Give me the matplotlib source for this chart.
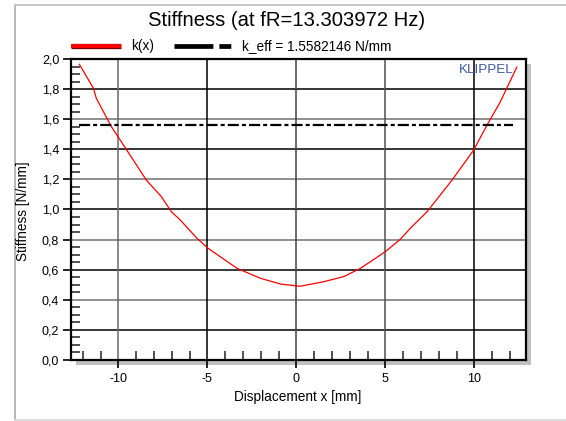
import matplotlib
matplotlib.use("Agg")
import matplotlib.pyplot as plt
from matplotlib.lines import Line2D
from matplotlib.patches import Rectangle
import matplotlib.patheffects as pe

plt.rcParams['font.family'] = ['Liberation Sans', 'DejaVu Sans']
plt.rcParams['lines.scale_dashes'] = False

# ---- data ----
x_disp = [-12.19, -11.4, -11.24, -10.39, -10.02, -8.43, -7.58, -7.02, -6.52, -5.58,
          -4.96, -3.33, -2.02, -0.9, 0.2, 1.53, 2.66, 3.6, 5.0, 5.84, 6.4, 7.34,
          8.75, 9.96, 10.71, 11.46, 12.38]
k_vals = [1.965, 1.805, 1.74, 1.55, 1.484, 1.196, 1.085, 0.985, 0.93, 0.808,
          0.742, 0.609, 0.543, 0.505, 0.49, 0.52, 0.554, 0.609, 0.72, 0.802, 0.875, 0.985,
          1.196, 1.395, 1.561, 1.716, 1.945]
k_eff = 1.5582146
k_eff_range = [-12.23, 12.17]

x_ticks = [-10, -5, 0, 5, 10]
x_tick_labels = ['-10', '-5', '0', '5', '10']
y_ticks = [0.0, 0.2, 0.4, 0.6, 0.8, 1.0, 1.2, 1.4, 1.6, 1.8, 2.0]
y_tick_labels = ['0,0', '0,2', '0,4', '0,6', '0,8', '1,0', '1,2', '1,4', '1,6', '1,8', '2,0']
x_minor = [-12, -11, -9, -8, -7, -6, -4, -3, -2, -1, 1, 2, 3, 4, 6, 7, 8, 9, 11, 12]
y_minor = [i * 0.05 for i in range(41) if i % 4 != 0]

title = "Stiffness (at fR=13.303972 Hz)"
legend_labels = ["k(x)", "k_eff = 1.5582146 N/mm"]

W, H = 566, 421
fig = plt.figure(figsize=(W / 100, H / 100), dpi=100)

def fx(px):
    return px / W

def fy(py):
    return 1 - py / H

# outer frame
fig.add_artist(Line2D([fx(15), fx(15)], [fy(5), fy(419)], color='#b0b0b0', lw=1.3, transform=fig.transFigure))
fig.add_artist(Line2D([fx(15), fx(570)], [fy(5), fy(5)], color='#c4c4c4', lw=1.3, transform=fig.transFigure))
fig.add_artist(Line2D([fx(15), fx(570)], [fy(419.5), fy(419.5)], color='#d8d8d8', lw=1.3, transform=fig.transFigure))

L, T, R, B = 71, 59, 526, 360
# shadow
fig.add_artist(Rectangle((fx(L + 5), fy(B + 5)), fx(R - L), (B - T) / H,
                         transform=fig.transFigure, facecolor='#c0c0c0', edgecolor='none', zorder=0))

ax = fig.add_axes([fx(L), fy(B), fx(R - L), (B - T) / H])
ax.set_zorder(1)
ax.set_facecolor('white')
ax.set_xlim(-12.66, 12.90)
ax.set_ylim(0, 2.0)

# grid
hcol = {0.4: '#707070', 0.8: '#707070', 1.2: '#707070', 1.6: '#707070'}
for v in y_ticks[1:-1]:
    ax.axhline(v, color=hcol.get(round(v, 1), '#000000'), lw=1.1, zorder=1)
vcol = ['#686868', '#000000', '#404040', '#505050', '#000000']
for v, c in zip(x_ticks, vcol):
    ax.axvline(v, color=c, lw=1.1, zorder=1)

# data
ax.plot(x_disp, k_vals, color='#ff0000', lw=0.9, zorder=3)
ax.plot(k_eff_range, [k_eff, k_eff], color='black', lw=1.6, zorder=3,
        dashes=(8, 2.2, 2.9, 2.2))

for s in ax.spines.values():
    s.set_linewidth(1.6)
    s.set_color('black')

ax.set_xticks(x_ticks)
ax.set_xticklabels(x_tick_labels)
ax.set_yticks(y_ticks)
ax.set_yticklabels(y_tick_labels)
ax.set_xticks(x_minor, minor=True)
ax.set_yticks(y_minor, minor=True)
ax.tick_params(which='major', direction='out', length=6, width=1.2, labelsize=9, pad=2.5,
               colors='black')
ax.tick_params(which='minor', direction='in', length=6.5, width=1.1, colors='#202020')
ax.tick_params(axis='x', which='major', pad=3)

# title & labels
fig.text(fx(287), fy(20), title, ha='center', va='center', fontsize=14.6)
fig.text(fx(298), fy(397), "Displacement x [mm]", ha='center', va='center', fontsize=9.8)
fig.text(fx(23), fy(211), "Stiffness [N/mm]", ha='center', va='center', fontsize=9.8, rotation=90)
fig.text(fx(514), fy(70), "KLIPPEL", ha='right', va='center', fontsize=9.6, color='#3a5a9e', zorder=5)

# legend
ly = 46
fig.add_artist(Line2D([fx(71), fx(121)], [fy(ly), fy(ly)], color='#ff0000', lw=2.8,
                      solid_capstyle='butt', transform=fig.transFigure,
                      path_effects=[pe.Stroke(linewidth=3.8, foreground='#7a0000'), pe.Normal()]))
fig.text(fx(131.5), fy(ly), legend_labels[0], ha='left', va='center', fontsize=9.8)
fig.add_artist(Line2D([fx(174), fx(231)], [fy(ly), fy(ly)], color='black', lw=3.4,
                      dashes=(28, 4.3, 8.6, 30), solid_capstyle='butt', dash_capstyle='butt',
                      transform=fig.transFigure))
fig.text(fx(241.5), fy(ly), legend_labels[1], ha='left', va='center', fontsize=9.8)

fig.savefig('out.png', dpi=100)
